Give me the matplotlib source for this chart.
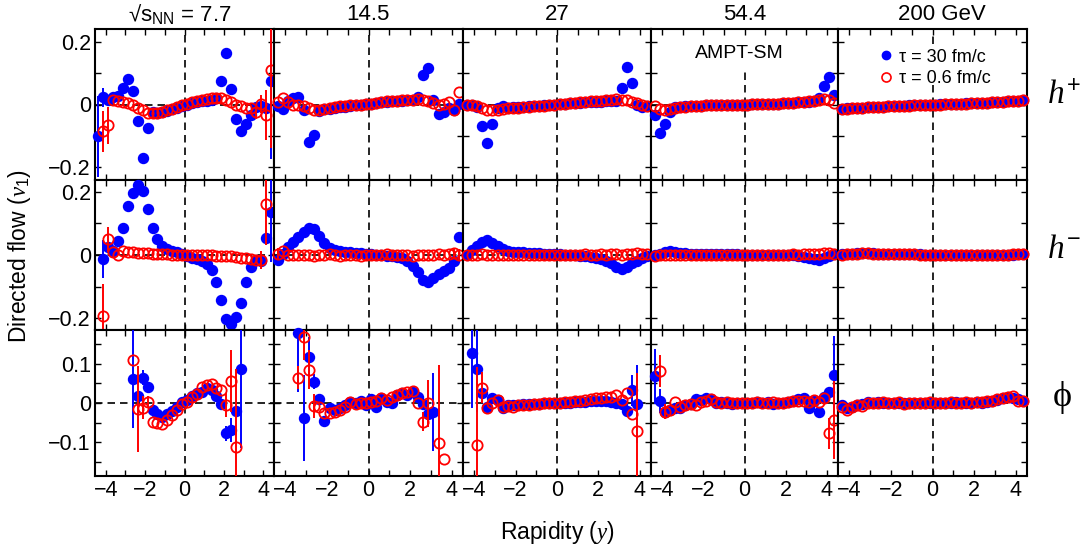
import numpy as np
import matplotlib
matplotlib.use('Agg')
import matplotlib.pyplot as plt
from matplotlib.lines import Line2D

plt.rcParams['font.family'] = ['Liberation Sans', 'DejaVu Sans']
plt.rcParams['mathtext.fontset'] = 'custom'
plt.rcParams['mathtext.rm'] = 'Liberation Sans'
plt.rcParams['mathtext.it'] = 'Liberation Serif:italic'
plt.rcParams['mathtext.bf'] = 'Liberation Sans:bold'

nan = float('nan')

# ---------------- data ----------------
rapidity = [-4.375, -4.125, -3.875, -3.625, -3.375, -3.125, -2.875, -2.625, -2.375,
            -2.125, -1.875, -1.625, -1.375, -1.125, -0.875, -0.625, -0.375, -0.125,
            0.125, 0.375, 0.625, 0.875, 1.125, 1.375, 1.625, 1.875, 2.125, 2.375,
            2.625, 2.875, 3.125, 3.375, 3.625, 3.875, 4.125, 4.375]

energies = ['7.7', '14.5', '27', '54.4', '200']
column_titles = ['√s$_{\\rm NN}$ = 7.7', '14.5', '27', '54.4', '200 GeV']
species_labels = ['$h^{+}$', '$h^{-}$', 'ϕ']
legend_labels = ['τ = 30 fm/c', 'τ = 0.6 fm/c']

zeros36 = [0.0] * 36

# ---- h+ ----
hp_t30_7p7 = [-0.102, 0.023, 0.015, 0.023, 0.026, 0.053, 0.081, 0.043, -0.053, -0.170, -0.076, -0.025,
              -0.028, -0.025, -0.020, -0.015, -0.010, -0.005, 0.000, 0.005, 0.008, 0.010, 0.012, 0.015,
              0.020, 0.074, 0.165, 0.050, -0.046, -0.085, -0.062, -0.033, -0.009, -0.006, -0.010, 0.074]
hp_t30_7p7_err = [0.13, 0.03, 0, 0, 0, 0, 0, 0, 0, 0, 0, 0, 0, 0, 0, 0, 0, 0,
                  0, 0, 0, 0, 0, 0, 0, 0, 0, 0, 0, 0, 0, 0, 0, 0, 0, 0.25]
hp_t06_7p7 = [nan, -0.086, -0.067, 0.013, 0.011, 0.009, 0.004, -0.003, -0.011, -0.019, -0.026, -0.028,
              -0.027, -0.025, -0.019, -0.014, -0.009, -0.003, 0.002, 0.007, 0.012, 0.015, 0.018, 0.020,
              0.021, 0.020, 0.015, 0.007, 0.000, -0.006, -0.010, -0.012, -0.025, 0.002, -0.035, 0.111]
hp_t06_7p7_err = [0, 0.065, 0.06, 0, 0, 0, 0, 0, 0, 0, 0, 0, 0, 0, 0, 0, 0, 0,
                  0, 0, 0, 0, 0, 0, 0, 0, 0, 0, 0, 0, 0, 0, 0.02, 0.03, 0.08, 0.25]

hp_t30_14p5 = [-0.005, -0.014, 0.010, 0.021, 0.023, -0.019, -0.120, -0.099, -0.020, -0.016, -0.013, -0.011,
               -0.009, -0.007, -0.005, -0.003, -0.001, 0.001, 0.003, 0.005, 0.007, 0.009, 0.010, 0.011,
               0.012, 0.014, 0.016, 0.023, 0.096, 0.117, 0.015, -0.030, -0.025, -0.012, -0.019, 0.002]
hp_t06_14p5 = [0.008, 0.022, 0.007, 0.000, -0.003, -0.006, -0.012, -0.017, -0.017, -0.014, -0.011, -0.009,
               -0.006, -0.004, -0.003, -0.001, 0.000, 0.001, 0.003, 0.005, 0.007, 0.010, 0.011, 0.012,
               0.013, 0.015, 0.016, 0.018, 0.016, 0.011, 0.004, 0.000, 0.002, 0.007, -0.019, 0.040]

hp_t30_27 = [0.000, 0.000, -0.009, -0.070, -0.124, -0.062, -0.011, -0.006, -0.010, -0.009, -0.008, -0.007,
             -0.006, -0.005, -0.004, -0.003, -0.002, -0.001, 0.001, 0.002, 0.004, 0.005, 0.006, 0.007,
             0.008, 0.009, 0.009, 0.010, 0.010, 0.012, 0.053, 0.119, 0.068, -0.003, -0.009, -0.006]
hp_t06_27 = [0.000, -0.001, -0.004, -0.011, -0.017, -0.019, -0.017, -0.014, -0.012, -0.011, -0.010, -0.009,
             -0.008, -0.006, -0.005, -0.004, -0.002, -0.001, 0.001, 0.003, 0.004, 0.006, 0.007, 0.009,
             0.010, 0.011, 0.012, 0.013, 0.015, 0.017, 0.015, 0.013, 0.007, 0.004, 0.000, -0.004]

hp_t30_54p4 = [-0.035, -0.091, -0.062, -0.025, -0.009, -0.007, -0.006, -0.005, -0.004, -0.004, -0.003, -0.003,
               -0.002, -0.002, -0.001, -0.001, 0.000, 0.000, 0.000, 0.001, 0.001, 0.002, 0.002, 0.003,
               0.003, 0.004, 0.005, 0.006, 0.007, 0.008, 0.009, 0.011, 0.020, 0.058, 0.087, 0.030]
hp_t06_54p4 = [-0.006, -0.015, -0.017, -0.014, -0.011, -0.009, -0.008, -0.006, -0.005, -0.004, -0.003, -0.003,
               -0.002, -0.002, -0.001, -0.001, 0.000, 0.000, 0.000, 0.001, 0.001, 0.002, 0.002, 0.003,
               0.003, 0.004, 0.005, 0.006, 0.007, 0.008, 0.010, 0.011, 0.015, 0.017, 0.013, 0.004]

hp_t30_200 = [-0.013, -0.012, -0.012, -0.010, -0.010, -0.009, -0.008, -0.007, -0.007, -0.006, -0.005, -0.005,
              -0.004, -0.003, -0.003, -0.002, -0.001, -0.001, 0.000, 0.001, 0.001, 0.002, 0.003, 0.003,
              0.004, 0.004, 0.005, 0.006, 0.006, 0.007, 0.008, 0.009, 0.010, 0.011, 0.012, 0.013]
hp_t06_200 = [-0.014, -0.013, -0.012, -0.011, -0.010, -0.009, -0.008, -0.008, -0.007, -0.006, -0.006, -0.005,
              -0.004, -0.004, -0.003, -0.002, -0.002, -0.001, 0.000, 0.000, 0.001, 0.002, 0.002, 0.003,
              0.003, 0.004, 0.005, 0.005, 0.006, 0.007, 0.008, 0.009, 0.010, 0.011, 0.012, 0.013]

# ---- h- ----
hm_t30_7p7 = [nan, -0.013, 0.026, 0.013, 0.046, 0.085, 0.156, 0.196, 0.222, 0.203, 0.145, 0.085,
              0.050, 0.029, 0.019, 0.013, 0.008, 0.002, -0.002, -0.008, -0.013, -0.019, -0.030, -0.048,
              -0.087, -0.143, -0.203, -0.219, -0.196, -0.153, -0.087, -0.037, -0.016, -0.019, 0.055, 0.138]
hm_t30_7p7_err = [0, 0.06, 0, 0, 0, 0, 0, 0, 0, 0, 0, 0, 0, 0, 0, 0, 0, 0,
                  0, 0, 0, 0, 0, 0, 0, 0, 0, 0, 0, 0, 0, 0, 0, 0, 0, 0.16]
hm_t06_7p7 = [nan, -0.193, 0.050, 0.010, 0.000, 0.013, 0.008, 0.008, 0.007, 0.006, 0.005, 0.004,
              0.003, 0.002, 0.002, 0.001, 0.000, 0.000, 0.000, 0.000, 0.000, 0.000, -0.001, -0.001,
              -0.002, -0.002, -0.003, -0.004, -0.006, -0.008, -0.011, -0.013, -0.015, -0.016, 0.161, nan]
hm_t06_7p7_err = [0, 0.10, 0.04, 0, 0, 0, 0, 0, 0, 0, 0, 0, 0, 0, 0, 0, 0, 0,
                  0, 0, 0, 0, 0, 0, 0, 0, 0, 0, 0, 0, 0, 0, 0, 0.03, 0.13, 0]

hm_t30_14p5 = [-0.016, 0.002, 0.026, 0.042, 0.058, 0.072, 0.085, 0.081, 0.060, 0.037, 0.023, 0.016,
               0.012, 0.010, 0.008, 0.007, 0.005, 0.004, 0.003, 0.001, 0.000, -0.002, -0.004, -0.006,
               -0.011, -0.019, -0.034, -0.055, -0.079, -0.085, -0.074, -0.060, -0.051, -0.042, -0.019, 0.058]
hm_t06_14p5 = [0.003, 0.013, 0.000, 0.001, 0.000, 0.001, 0.000, -0.002, 0.001, 0.000, 0.002, 0.001,
               -0.002, 0.000, 0.001, 0.000, -0.002, 0.000, 0.001, 0.000, -0.001, 0.002, 0.000, -0.001,
               0.000, 0.001, -0.002, 0.000, 0.001, 0.000, 0.001, 0.002, 0.001, 0.002, 0.005, 0.000]
hm_t06_14p5_err = [0.02, 0, 0, 0, 0, 0, 0, 0, 0, 0, 0, 0, 0, 0, 0, 0, 0, 0,
                   0, 0, 0, 0, 0, 0, 0, 0, 0, 0, 0, 0, 0, 0, 0, 0, 0.015, 0.02]

hm_t30_27 = [0.000, 0.016, 0.030, 0.042, 0.048, 0.039, 0.029, 0.019, 0.013, 0.011, 0.009, 0.008,
             0.007, 0.006, 0.005, 0.004, 0.003, 0.002, 0.002, 0.001, 0.000, -0.001, -0.002, -0.004,
             -0.006, -0.009, -0.013, -0.019, -0.026, -0.037, -0.044, -0.037, -0.026, -0.019, -0.011, -0.003]
hm_t06_27 = [0.000, 0.001, 0.000, 0.002, 0.000, 0.001, -0.001, 0.000, 0.001, 0.000, 0.000, 0.001,
             0.000, -0.001, 0.000, 0.001, 0.000, 0.000, 0.001, 0.000, 0.000, 0.001, 0.000, 0.002,
             0.001, 0.000, 0.002, 0.001, 0.003, 0.002, 0.001, 0.004, 0.003, 0.005, 0.004, 0.002]

hm_t30_54p4 = [0.000, 0.004, 0.010, 0.012, 0.010, 0.007, 0.005, 0.004, 0.004, 0.003, 0.003, 0.003,
               0.002, 0.002, 0.002, 0.002, 0.002, 0.001, 0.001, 0.001, 0.001, 0.001, 0.000, 0.000,
               0.000, 0.000, -0.001, -0.001, -0.002, -0.006, -0.010, -0.014, -0.016, -0.008, -0.002, 0.003]
hm_t06_54p4 = [-0.003, -0.001, 0.001, 0.000, 0.001, 0.000, 0.001, 0.000, 0.000, 0.001, 0.000, 0.000,
               0.001, 0.000, 0.000, 0.001, 0.000, 0.000, 0.000, 0.001, 0.000, 0.000, 0.001, 0.000,
               0.001, 0.000, 0.001, 0.002, 0.001, 0.002, 0.003, 0.002, 0.004, 0.005, 0.005, 0.004]

hm_t30_200 = [0.002, 0.003, 0.004, 0.005, 0.005, 0.005, 0.005, 0.004, 0.004, 0.004, 0.003, 0.003,
              0.003, 0.002, 0.002, 0.002, 0.001, 0.001, 0.001, 0.001, 0.000, 0.000, 0.000, 0.000,
              0.000, 0.000, 0.000, -0.001, -0.001, -0.001, -0.001, 0.000, 0.001, 0.001, 0.002, 0.003]
hm_t06_200 = [0.001, 0.002, 0.003, 0.004, 0.005, 0.005, 0.004, 0.004, 0.004, 0.003, 0.003, 0.003,
              0.002, 0.002, 0.002, 0.001, 0.001, 0.001, 0.001, 0.000, 0.000, 0.000, 0.000, 0.000,
              -0.001, -0.001, -0.001, -0.001, -0.001, 0.000, 0.000, 0.000, 0.001, 0.002, 0.002, 0.003]

# ---- phi ----
phi_t30_7p7 = [nan, nan, nan, nan, nan, nan, nan, 0.062, 0.018, 0.065, 0.042, -0.018,
               -0.029, -0.035, -0.029, -0.021, -0.009, 0.002, 0.008, 0.019, 0.025, 0.029, 0.038, 0.033,
               0.019, -0.003, -0.078, -0.069, -0.021, 0.086, nan, nan, nan, nan, nan, nan]
phi_t30_7p7_err = [0, 0, 0, 0, 0, 0, 0, 0.125, 0.01, 0.02, 0, 0, 0, 0, 0, 0, 0, 0,
                   0, 0, 0, 0, 0, 0, 0, 0, 0.02, 0.03, 0, 0.2, 0, 0, 0, 0, 0, 0]
phi_t06_7p7 = [nan, nan, nan, nan, nan, nan, nan, 0.110, -0.016, -0.012, 0.002, -0.048,
               -0.052, -0.055, -0.044, -0.032, -0.018, -0.003, 0.003, 0.016, 0.022, 0.042, 0.046, 0.048,
               0.038, 0.033, -0.005, 0.056, -0.112, nan, nan, nan, nan, nan, nan, nan]
phi_t06_7p7_err = [0, 0, 0, 0, 0, 0, 0, 0, 0.11, 0.03, 0.015, 0, 0, 0, 0, 0, 0, 0,
                   0, 0, 0, 0, 0, 0, 0, 0, 0.03, 0.08, 0.2, 0, 0, 0, 0, 0, 0, 0]

phi_t30_14p5 = [nan, nan, nan, nan, 0.179, -0.038, 0.119, 0.055, 0.010, -0.045, -0.014, -0.018,
                -0.014, -0.005, 0.002, 0.000, 0.005, -0.005, 0.010, -0.009, 0.012, 0.002, 0.000, 0.020,
                0.025, 0.020, 0.029, 0.016, -0.003, -0.029, -0.022, nan, nan, nan, nan, nan]
phi_t30_14p5_err = [0, 0, 0, 0, 0.15, 0.11, 0.05, 0.02, 0, 0, 0, 0, 0, 0, 0, 0, 0, 0,
                    0, 0, 0, 0, 0, 0, 0, 0, 0, 0, 0, 0, 0.1, 0, 0, 0, 0, 0]
phi_t06_14p5 = [nan, nan, nan, nan, 0.065, 0.170, 0.085, -0.008, -0.009, -0.026, -0.026, -0.022,
                -0.018, -0.009, 0.003, -0.002, -0.001, -0.001, 0.002, 0.005, 0.012, 0.008, 0.016, 0.020,
                0.025, 0.029, 0.031, -0.001, -0.048, -0.001, nan, -0.102, -0.144, nan, nan, nan]
phi_t06_14p5_err = [0, 0, 0, 0, 0.03, 0.06, 0.05, 0.03, 0, 0, 0, 0, 0, 0, 0, 0, 0, 0,
                    0, 0, 0, 0, 0, 0, 0, 0, 0, 0, 0.025, 0.06, 0, 0.2, 0, 0, 0, 0]

phi_t30_27 = [nan, 0.127, 0.086, 0.025, -0.009, 0.012, 0.008, -0.012, -0.004, -0.005, -0.004, -0.003,
              -0.003, -0.002, -0.002, -0.001, -0.001, 0.000, 0.000, 0.001, 0.001, 0.002, 0.002, 0.003,
              0.004, 0.005, 0.005, 0.004, 0.003, 0.001, -0.002, -0.020, 0.033, -0.003, nan, nan]
phi_t30_27_err = [0, 0.14, 0.11, 0.01, 0, 0, 0, 0, 0, 0, 0, 0, 0, 0, 0, 0, 0, 0,
                  0, 0, 0, 0, 0, 0, 0, 0, 0, 0, 0, 0, 0, 0, 0.04, 0.1, 0, 0]
phi_t06_27 = [nan, nan, -0.108, 0.039, -0.014, 0.000, 0.008, -0.009, -0.008, -0.009, -0.006, -0.005,
              -0.004, -0.003, -0.002, -0.001, -0.001, 0.000, 0.001, 0.002, 0.003, 0.004, 0.006, 0.008,
              0.010, 0.012, 0.013, 0.015, 0.016, 0.020, 0.008, 0.025, -0.029, -0.072, nan, nan]
phi_t06_27_err = [0, 0, 0.2, 0.04, 0, 0, 0, 0, 0, 0, 0, 0, 0, 0, 0, 0, 0, 0,
                  0, 0, 0, 0, 0, 0, 0, 0, 0, 0, 0, 0, 0, 0, 0, 0.15, 0, 0]

phi_t30_54p4 = [0.068, 0.005, -0.024, -0.018, -0.012, -0.014, -0.005, -0.003, 0.010, 0.008, 0.014, 0.010,
                0.000, 0.002, 0.000, -0.002, 0.000, -0.001, 0.000, 0.001, 0.003, 0.000, 0.002, -0.002,
                0.000, -0.001, 0.003, 0.006, 0.010, 0.014, -0.012, 0.006, -0.022, 0.016, 0.029, 0.072]
phi_t30_54p4_err = [0.07, 0.03, 0, 0, 0, 0, 0, 0, 0, 0, 0, 0, 0, 0, 0, 0, 0, 0,
                    0, 0, 0, 0, 0, 0, 0, 0, 0, 0, 0, 0, 0, 0, 0, 0, 0, 0.1]
phi_t06_54p4 = [nan, 0.082, -0.022, -0.018, 0.003, -0.009, -0.005, -0.003, -0.005, 0.002, 0.005, 0.010,
                0.002, 0.000, 0.002, -0.001, 0.000, 0.001, 0.000, 0.000, 0.002, -0.001, 0.001, 0.002,
                -0.001, 0.000, 0.003, 0.005, 0.005, 0.005, 0.003, 0.008, 0.002, 0.012, -0.078, -0.044]
phi_t06_54p4_err = [0, 0.04, 0.02, 0, 0, 0, 0, 0, 0, 0, 0, 0, 0, 0, 0, 0, 0, 0,
                    0, 0, 0, 0, 0, 0, 0, 0, 0, 0, 0, 0, 0, 0, 0, 0, 0.04, 0.1]

phi_t30_200 = [-0.005, -0.014, -0.009, -0.005, -0.003, 0.002, 0.001, 0.002, 0.001, 0.000, 0.001, 0.000,
               0.001, 0.000, -0.001, 0.000, 0.001, 0.000, 0.000, 0.001, 0.000, 0.001, 0.002, 0.001,
               0.000, 0.001, 0.002, 0.001, 0.003, 0.005, 0.008, 0.012, 0.016, 0.014, 0.010, 0.006]
phi_t06_200 = [-0.009, -0.018, -0.010, -0.004, -0.007, 0.000, 0.001, 0.000, 0.002, -0.001, 0.000, 0.003,
               -0.002, 0.000, 0.001, -0.001, 0.000, 0.002, 0.001, 0.000, 0.001, 0.002, 0.000, 0.001,
               0.002, 0.001, 0.003, 0.002, 0.004, 0.006, 0.010, 0.014, 0.015, 0.017, 0.005, 0.005]

# panel table built from the named arrays: rows = species, cols = energies
panels = [
    [(hp_t30_7p7, hp_t30_7p7_err, hp_t06_7p7, hp_t06_7p7_err),
     (hp_t30_14p5, zeros36, hp_t06_14p5, zeros36),
     (hp_t30_27, zeros36, hp_t06_27, zeros36),
     (hp_t30_54p4, zeros36, hp_t06_54p4, zeros36),
     (hp_t30_200, zeros36, hp_t06_200, zeros36)],
    [(hm_t30_7p7, hm_t30_7p7_err, hm_t06_7p7, hm_t06_7p7_err),
     (hm_t30_14p5, zeros36, hm_t06_14p5, hm_t06_14p5_err),
     (hm_t30_27, zeros36, hm_t06_27, zeros36),
     (hm_t30_54p4, zeros36, hm_t06_54p4, zeros36),
     (hm_t30_200, zeros36, hm_t06_200, zeros36)],
    [(phi_t30_7p7, phi_t30_7p7_err, phi_t06_7p7, phi_t06_7p7_err),
     (phi_t30_14p5, phi_t30_14p5_err, phi_t06_14p5, phi_t06_14p5_err),
     (phi_t30_27, phi_t30_27_err, phi_t06_27, phi_t06_27_err),
     (phi_t30_54p4, phi_t30_54p4_err, phi_t06_54p4, phi_t06_54p4_err),
     (phi_t30_200, zeros36, phi_t06_200, zeros36)],
]

# ---------------- layout ----------------
W, H = 1087, 552
fig = plt.figure(figsize=(W / 100, H / 100), dpi=100)
col_px = [(95, 274), (274, 463), (463, 651), (651, 838), (838, 1027)]
row_px = [(29, 180), (180, 330), (330, 476)]
row_ylim = [(-0.242, 0.242), (-0.238, 0.238), (-0.187, 0.187)]
row_yticks = [[-0.2, -0.1, 0, 0.1, 0.2], [-0.2, -0.1, 0, 0.1, 0.2], [-0.15, -0.1, -0.05, 0, 0.05, 0.1, 0.15]]
row_ylabels = [['−0.2', '', '0', '', '0.2'], ['−0.2', '', '0', '', '0.2'],
               ['', '−0.1', '', '0', '', '0.1', '']]
vline_top = [[1, 0.97, 0.97, 0.74, 0.63], [1, 1, 1, 1, 1], [1, 1, 0.9, 0.9, 0.9]]

BLUE = '#0000ff'
RED = '#ff0000'
x = np.array(rapidity)

axes = {}
for r in range(3):
    for c in range(5):
        x0, x1 = col_px[c]
        y0, y1 = row_px[r]
        ax = fig.add_axes([x0 / W, 1 - y1 / H, (x1 - x0) / W, (y1 - y0) / H])
        axes[(r, c)] = ax
        ax.set_xlim(-4.55, 4.55)
        ax.set_ylim(*row_ylim[r])
        ax.axvline(0, ymin=0, ymax=vline_top[r][c], color='black', lw=1.2,
                   dashes=(4.5, 3), zorder=1)
        ax.axhline(0, color='black', lw=1.2, dashes=(4.5, 3), zorder=1)

        b, be, rd, rde = panels[r][c]
        eb = ax.errorbar(x, np.array(b, float), yerr=np.array(be, float), fmt='o', color=BLUE,
                         ms=7.2, mec=BLUE, mfc=BLUE, elinewidth=1.4, capsize=0, zorder=3)
        eb[0].set_clip_on(False)
        er = ax.errorbar(x, np.array(rd, float), yerr=np.array(rde, float), fmt='o', color=RED,
                         ms=7.4, mec=RED, mfc='none', mew=1.3, elinewidth=1.4, capsize=0, zorder=4)
        er[0].set_clip_on(False)

        ax.set_xticks([-4, -3, -2, -1, 0, 1, 2, 3, 4])
        if r == 2:
            ax.set_xticklabels(['−4', '', '−2', '', '0', '', '2', '', '4'])
        else:
            ax.set_xticklabels([])
        ax.set_yticks(row_yticks[r])
        if c == 0:
            ax.set_yticklabels(row_ylabels[r])
        else:
            ax.set_yticklabels([])
        ax.tick_params(direction='in', top=True, right=True, length=4, width=1.0,
                       labelsize=15.5, pad=3)
        for s in ax.spines.values():
            s.set_linewidth(1.5)

# short dashed piece above the legend in the 200 GeV h+ panel
axes[(0, 4)].axvline(0, ymin=0.9, ymax=0.97, color='black', lw=1.2, dashes=(4.5, 3), zorder=1)

# column titles
title_x = [180, 368, 557, 745, 942]
for c in range(5):
    fig.text(title_x[c] / W, 1 - 14 / H, column_titles[c], ha='center', va='center', fontsize=16)

# species labels on the right
spec_y = [95, 250, 397]
for r in range(3):
    if r < 2:
        fig.text(1064 / W, 1 - spec_y[r] / H, species_labels[r], ha='center', va='center',
                 fontsize=24)
    else:
        fig.text(1062 / W, 1 - spec_y[r] / H, species_labels[r], ha='center', va='center',
                 fontsize=26, family=['Liberation Serif', 'DejaVu Serif'])

# axis labels
fig.text(20 / W, 1 - 256 / H, 'Directed flow ($v_1$)', rotation=90, ha='center', va='center',
         fontsize=16.5)
fig.text(557 / W, 1 - 532 / H, 'Rapidity ($y$)', ha='center', va='center', fontsize=16.5)

# AMPT-SM label
axes[(0, 3)].text(0.47, 0.84, 'AMPT-SM', transform=axes[(0, 3)].transAxes, ha='center',
                  va='center', fontsize=14)

# legend
handles = [Line2D([], [], marker='o', ls='none', color=BLUE, mfc=BLUE, ms=6),
           Line2D([], [], marker='o', ls='none', color=RED, mfc='none', mew=1.2, ms=6.5)]
axes[(0, 4)].legend(handles, legend_labels, loc='upper left', bbox_to_anchor=(0.21, 0.87),
                    frameon=False, fontsize=13, handlelength=0.9, handletextpad=0.3,
                    labelspacing=0.25, borderaxespad=0, borderpad=0)

fig.savefig('out.png', dpi=100)
